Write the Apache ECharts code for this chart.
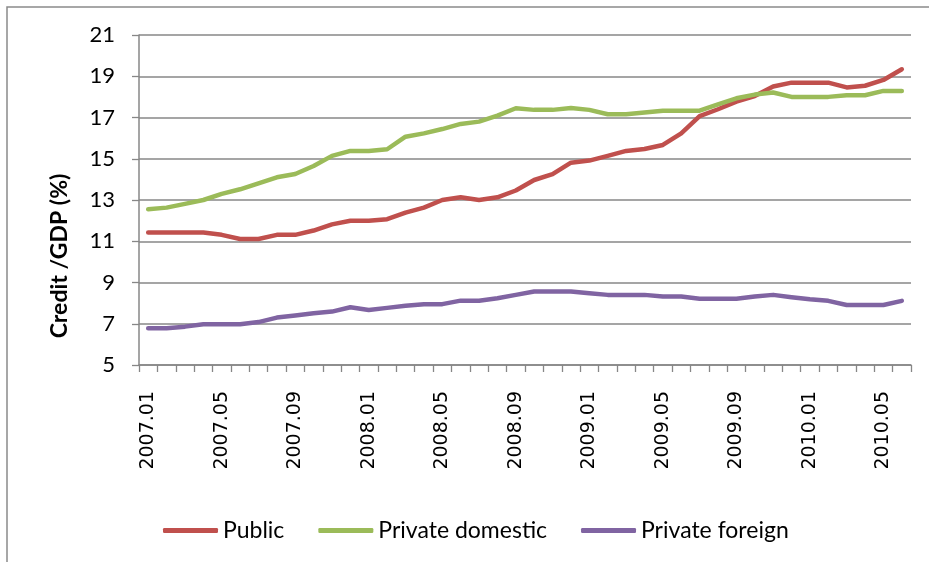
<!DOCTYPE html>
<html>
<head>
<meta charset="utf-8">
<script src="https://cdn.jsdelivr.net/npm/echarts@6/dist/echarts.min.js"></script>
<style>
  html, body { margin: 0; padding: 0; background: #fff; }
  #chart { width: 929px; height: 562px; }
</style>
</head>
<body>
<div id="chart"></div>
<script>
// Monthly periods, 2007.01 – 2010.06
const months = [
  '2007.01','2007.02','2007.03','2007.04','2007.05','2007.06','2007.07','2007.08','2007.09','2007.10','2007.11','2007.12',
  '2008.01','2008.02','2008.03','2008.04','2008.05','2008.06','2008.07','2008.08','2008.09','2008.10','2008.11','2008.12',
  '2009.01','2009.02','2009.03','2009.04','2009.05','2009.06','2009.07','2009.08','2009.09','2009.10','2009.11','2009.12',
  '2010.01','2010.02','2010.03','2010.04','2010.05','2010.06'
];

// Credit / GDP (%)
const publicCredit = [
  11.42, 11.42, 11.42, 11.42, 11.31, 11.11, 11.11, 11.31, 11.31, 11.52, 11.82, 11.99,
  11.99, 12.07, 12.39, 12.63, 13.00, 13.13, 13.00, 13.13, 13.46, 13.97, 14.25, 14.81,
  14.91, 15.14, 15.38, 15.47, 15.67, 16.23, 17.07, 17.40, 17.77, 18.04, 18.50, 18.69,
  18.69, 18.69, 18.46, 18.54, 18.82, 19.34
];
const privateDomestic = [
  12.55, 12.63, 12.81, 13.00, 13.30, 13.52, 13.81, 14.10, 14.26, 14.65, 15.14, 15.38,
  15.38, 15.46, 16.07, 16.23, 16.44, 16.69, 16.80, 17.09, 17.45, 17.37, 17.37, 17.46,
  17.37, 17.16, 17.16, 17.24, 17.33, 17.33, 17.33, 17.64, 17.93, 18.11, 18.21, 18.00,
  18.00, 18.00, 18.08, 18.08, 18.29, 18.29
];
const privateForeign = [
  6.78, 6.78, 6.86, 6.98, 6.98, 6.98, 7.08, 7.30, 7.40, 7.51, 7.59, 7.80,
  7.67, 7.77, 7.87, 7.95, 7.95, 8.12, 8.12, 8.24, 8.40, 8.56, 8.56, 8.56,
  8.48, 8.40, 8.40, 8.40, 8.32, 8.32, 8.21, 8.21, 8.21, 8.32, 8.40, 8.29,
  8.19, 8.11, 7.91, 7.91, 7.91, 8.11
];

const seriesNames = ['Public', 'Private domestic', 'Private foreign'];
const seriesColors = ['#C0504D', '#9BBB59', '#8064A2'];
const seriesData = [publicCredit, privateDomestic, privateForeign];

const gridColor = '#878787';
const chart = echarts.init(document.getElementById('chart'), null, { renderer: 'canvas' });

chart.setOption({
  animation: false,
  backgroundColor: '#ffffff',
  graphic: [
    {
      type: 'rect',
      shape: { x: 7, y: 7, width: 1000, height: 1000 },
      style: { fill: 'none', stroke: '#8a8a8a', lineWidth: 1.5 },
      silent: true,
      z: -1
    },
    {
      type: 'text',
      x: 60,
      y: 256,
      rotation: Math.PI / 2,
      style: {
        text: 'Credit /GDP (%)',
        font: 'bold 23px Lato, "Open Sans", sans-serif',
        fill: '#000',
        align: 'center',
        verticalAlign: 'middle'
      }
    }
  ],
  grid: { left: 139, right: 18, top: 35, bottom: 197, containLabel: false },
  legend: {
    left: 158,
    top: 514,
    itemWidth: 55,
    itemHeight: 5,
    itemGap: 34,
    icon: 'roundRect',
    textStyle: { fontFamily: 'Lato, "Open Sans", sans-serif', fontSize: 23, color: '#000' },
    data: seriesNames
  },
  xAxis: {
    type: 'category',
    data: months,
    boundaryGap: true,
    axisLine: { lineStyle: { color: gridColor, width: 1.5 } },
    axisTick: { show: true, interval: 0, length: 7, lineStyle: { color: gridColor, width: 1.3 } },
    axisLabel: {
      interval: 3,
      rotate: 90,
      margin: 26,
      color: '#000',
      fontFamily: '"DejaVu Sans", sans-serif',
      fontSize: 19
    },
    splitLine: { show: false }
  },
  yAxis: {
    type: 'value',
    min: 5,
    max: 21,
    interval: 2,
    axisLine: { show: true, lineStyle: { color: gridColor, width: 1.5 } },
    axisTick: { show: true, length: 7, lineStyle: { color: gridColor, width: 1.3 } },
    axisLabel: {
      margin: 24,
      color: '#000',
      fontFamily: 'Lato, "Open Sans", sans-serif',
      fontSize: 22
    },
    splitLine: { show: true, lineStyle: { color: gridColor, width: 1.5 } }
  },
  series: seriesNames.map((name, i) => ({
    name: name,
    type: 'line',
    data: seriesData[i],
    symbol: 'none',
    smooth: false,
    color: seriesColors[i],
    lineStyle: { color: seriesColors[i], width: 4.5, cap: 'round', join: 'round' },
    itemStyle: { color: seriesColors[i] },
    z: 3 + i
  }))
});
</script>
</body>
</html>
